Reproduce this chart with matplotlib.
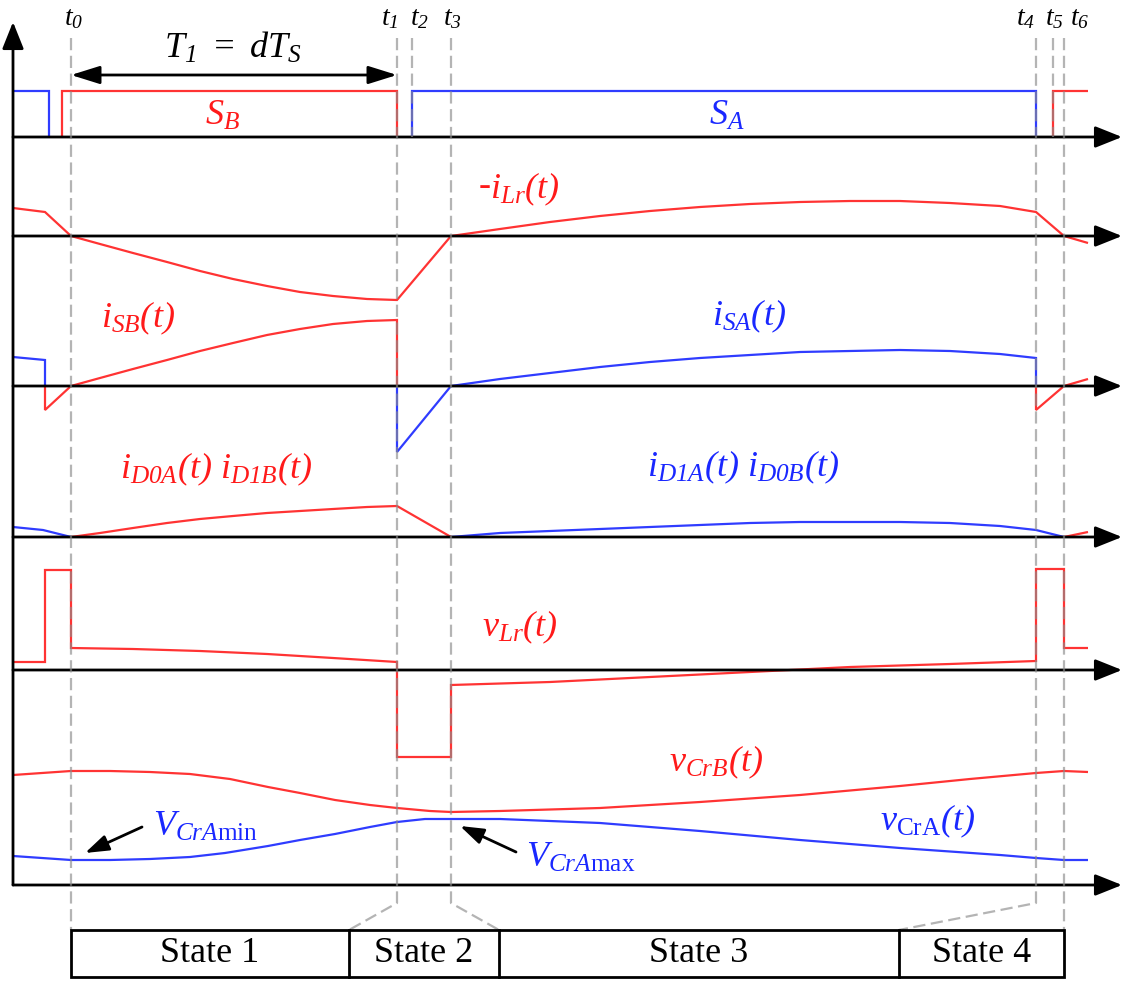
import numpy as np
import matplotlib.pyplot as plt
from matplotlib.patches import Rectangle

# fonts: Times-like serif; math text all italic, \mathsf used for upright parts
plt.rcParams['font.family'] = ['Liberation Serif', 'DejaVu Serif']
plt.rcParams['mathtext.fontset'] = 'custom'
plt.rcParams['mathtext.rm'] = 'Liberation Serif:italic'
plt.rcParams['mathtext.it'] = 'Liberation Serif:italic'
plt.rcParams['mathtext.sf'] = 'Liberation Serif'

RED = '#ff3333'
BLUE = '#2f3cff'
RED_TXT = '#ff1a1a'
BLUE_TXT = '#1a28ff'

# time instants t0..t6
t_marks = [71, 397, 412, 451, 1036, 1053, 1064]
t_names = ['0', '1', '2', '3', '4', '5', '6']

# gate signals (amplitude above the axis)
sa_t1, sa_v1 = [13, 49, 49], [46, 46, 0]
sa_t2, sa_v2 = [412, 412, 1036, 1036], [0, 46, 46, 0]
sb_t1, sb_v1 = [62, 62, 397, 397], [0, 46, 46, 0]
sb_t2, sb_v2 = [1053, 1053, 1088], [0, 46, 46]

# -iLr(t)
ilr_t = [13, 45, 71, 100, 133, 167, 200, 233, 267, 300, 333, 367, 397, 451, 500, 550,
         600, 650, 700, 750, 800, 850, 900, 950, 1000, 1036, 1064, 1088]
ilr_v = [28, 24, 0, -8, -17, -26, -35, -43, -50, -56, -60, -63, -64, 0, 7, 14,
         20, 25, 29, 32, 34, 35, 35, 33, 30, 24, 0, -7]

# iSB(t) red, iSA(t) blue
isb_t1, isb_v1 = [45, 45, 71], [0, -24, 0]
isb_t2 = [71, 100, 133, 167, 200, 233, 267, 300, 333, 367, 397, 397]
isb_v2 = [0, 8, 17, 26, 35, 43, 51, 57, 62, 65, 66, 0]
isb_t3, isb_v3 = [1036, 1036, 1064, 1088], [0, -24, 0, 7]
isa_t1, isa_v1 = [13, 45, 45], [29, 26, 0]
isa_t2, isa_v2 = [397, 397, 451], [0, -66, 0]
isa_t3 = [451, 500, 550, 600, 650, 700, 750, 800, 850, 900, 950, 1000, 1036, 1036]
isa_v3 = [0, 7, 13, 19, 24, 28, 31, 34, 35, 36, 35, 32, 28, 0]

# diode currents
idb_t1, idb_v1 = [13, 43, 71], [10, 7, 0]
idr_t1 = [71, 100, 133, 167, 200, 233, 267, 300, 333, 367, 397, 451]
idr_v1 = [0, 4, 9, 14, 18, 21, 24, 26, 28, 30, 31, 0]
idb_t2 = [451, 500, 550, 600, 650, 700, 750, 800, 850, 900, 950, 1000, 1036, 1064]
idb_v2 = [0, 4, 6, 8, 10, 12, 14, 15, 15, 15, 14, 11, 7, 0]
idr_t2, idr_v2 = [1064, 1088], [0, 5]

# vLr(t)
vlr_t = [13, 45, 45, 71, 71, 133, 200, 267, 333, 397, 397, 451, 451, 550, 650, 750,
         850, 950, 1036, 1036, 1064, 1064, 1088]
vlr_v = [8, 8, 100, 100, 22, 21, 19, 16, 12, 8, -87, -87, -15, -12, -7, -2,
         3, 6, 9, 101, 101, 22, 22]

# resonant capacitor voltages
vcrb_t = [13, 71, 110, 150, 190, 230, 268, 300, 335, 370, 397, 430, 451, 500, 600, 700,
          800, 900, 970, 1036, 1064, 1088]
vcrb_v = [110, 114, 114, 113, 111, 106, 98, 92, 85, 80, 77, 74, 73, 74, 77, 83,
          90, 99, 106, 112, 114, 113]
vcra_t = [13, 71, 110, 150, 190, 225, 268, 300, 335, 370, 397, 425, 451, 500, 550, 600,
          700, 800, 900, 1000, 1036, 1064, 1088]
vcra_v = [29, 25, 25, 26, 28, 32, 39, 45, 51, 58, 63, 66, 66, 66, 64, 62,
          54, 45, 37, 30, 27, 25, 25]

states = ['State 1', 'State 2', 'State 3', 'State 4']
state_edges = [71, 349, 499, 899, 1064]

# layout (pixel rows of each time axis)
bases = [137, 236, 386, 537, 670, 885]
x0, x_end = 13, 1122
lab = 26

fig = plt.figure(figsize=(11.24, 9.81), dpi=100)
ax = fig.add_axes([0, 0, 1, 1])
ax.set_xlim(0, 1124)
ax.set_ylim(981, 0)
ax.axis('off')


def wave(t, v, base, color):
    ax.plot(t, base - np.array(v), color=color, lw=1.6,
            solid_joinstyle='miter', solid_capstyle='butt', zorder=3)


wave(sa_t1, sa_v1, bases[0], BLUE)
wave(sa_t2, sa_v2, bases[0], BLUE)
wave(sb_t1, sb_v1, bases[0], RED)
wave(sb_t2, sb_v2, bases[0], RED)
wave(ilr_t, ilr_v, bases[1], RED)
wave(isb_t1, isb_v1, bases[2], RED)
wave(isb_t2, isb_v2, bases[2], RED)
wave(isb_t3, isb_v3, bases[2], RED)
wave(isa_t1, isa_v1, bases[2], BLUE)
wave(isa_t2, isa_v2, bases[2], BLUE)
wave(isa_t3, isa_v3, bases[2], BLUE)
wave(idb_t1, idb_v1, bases[3], BLUE)
wave(idb_t2, idb_v2, bases[3], BLUE)
wave(idr_t1, idr_v1, bases[3], RED)
wave(idr_t2, idr_v2, bases[3], RED)
wave(vlr_t, vlr_v, bases[4], RED)
wave(vcrb_t, vcrb_v, bases[5], RED)
wave(vcra_t, vcra_v, bases[5], BLUE)

# time axes with arrow heads
ax_arrow = dict(arrowstyle='-|>,head_length=0.75,head_width=0.3', mutation_scale=22,
                lw=2, color='k', shrinkA=0, shrinkB=0)
for b in bases:
    ax.annotate('', xy=(x_end, b), xytext=(x0, b), arrowprops=ax_arrow, zorder=4)
ax.annotate('', xy=(x0, 22), xytext=(x0, bases[-1]), arrowprops=ax_arrow, zorder=4)

# dashed time markers
top, kink, box_top = 38, 903, 930
dash = dict(color='#8c8c8c', alpha=0.65, lw=1.6, dashes=(5.5, 2.5), zorder=5)
for i, tm in enumerate(t_marks):
    if i in (2, 5):
        ax.plot([tm, tm], [top, bases[0]], **dash)
    elif i in (0, 6):
        ax.plot([tm, tm], [top, box_top], **dash)
ax.plot([t_marks[1], t_marks[1], state_edges[1]], [top, kink, box_top], **dash)
ax.plot([t_marks[3], t_marks[3], state_edges[2]], [top, kink, box_top], **dash)
ax.plot([t_marks[4], t_marks[4], state_edges[3]], [top, kink, box_top], **dash)

# time labels
t_lab_x = [74, 390, 420, 452, 1026, 1054, 1080]
for x, n in zip(t_lab_x, t_names):
    ax.text(x, 19, r'$t_{%s}$' % n, fontsize=20, ha='center', va='center')

# T1 = dTs
ax.annotate('', xy=(t_marks[0], 75), xytext=(t_marks[1], 75),
            arrowprops=dict(arrowstyle='<|-|>,head_length=0.8,head_width=0.25',
                            mutation_scale=22, lw=2, color='k', shrinkA=0, shrinkB=0))
ax.text(233, 48, r'$T_{1}\ =\ dT_{S}$', fontsize=lab, ha='center', va='center')

# signal labels
ax.text(222, 116, r'$S_{B}$', fontsize=lab, color=RED_TXT, ha='center', va='center')
ax.text(727, 116, r'$S_{A}$', fontsize=lab, color=BLUE_TXT, ha='center', va='center')
ax.text(485, 186, '-', fontsize=lab, style='italic', color=RED_TXT, ha='center', va='center')
ax.text(490, 189, r'$i_{Lr}(t)$', fontsize=lab, color=RED_TXT, ha='left', va='center')
ax.text(138, 318, r'$i_{SB}(t)$', fontsize=lab, color=RED_TXT, ha='center', va='center')
ax.text(749, 316, r'$i_{SA}(t)$', fontsize=lab, color=BLUE_TXT, ha='center', va='center')
ax.text(216, 469, r'$i_{D0A}(t)\ i_{D1B}(t)$', fontsize=lab, color=RED_TXT,
        ha='center', va='center')
ax.text(743, 467, r'$i_{D1A}(t)\ i_{D0B}(t)$', fontsize=lab, color=BLUE_TXT,
        ha='center', va='center')
ax.text(520, 627, r'$v_{Lr}(t)$', fontsize=lab, color=RED_TXT, ha='center', va='center')
ax.text(716, 762, r'$v_{CrB}(t)$', fontsize=lab, color=RED_TXT, ha='center', va='center')
ax.text(928, 821, r'$v_{\mathsf{CrA}}(t)$', fontsize=lab, color=BLUE_TXT,
        ha='center', va='center')
ax.text(153, 827, r'$V_{CrA\mathsf{min}}$', fontsize=lab, color=BLUE_TXT,
        ha='left', va='center')
ax.text(526, 858, r'$V_{CrA\mathsf{max}}$', fontsize=lab, color=BLUE_TXT,
        ha='left', va='center')

pt_arrow = dict(arrowstyle='-|>,head_length=0.65,head_width=0.22', mutation_scale=22,
                lw=2, color='k', shrinkA=0, shrinkB=0)
ax.annotate('', xy=(85, 853), xytext=(142, 827), arrowprops=pt_arrow)
ax.annotate('', xy=(460, 826), xytext=(516, 852), arrowprops=pt_arrow)

# state bar
ax.add_patch(Rectangle((state_edges[0], 930), state_edges[-1] - state_edges[0], 47,
                       fill=False, lw=2, ec='k', zorder=6))
for i, s in enumerate(states):
    if i > 0:
        ax.plot([state_edges[i], state_edges[i]], [930, 977], color='k', lw=2, zorder=6)
    ax.text((state_edges[i] + state_edges[i + 1]) / 2, 954, s, fontsize=lab,
            ha='center', va='center')

fig.savefig('out.png', dpi=100)
